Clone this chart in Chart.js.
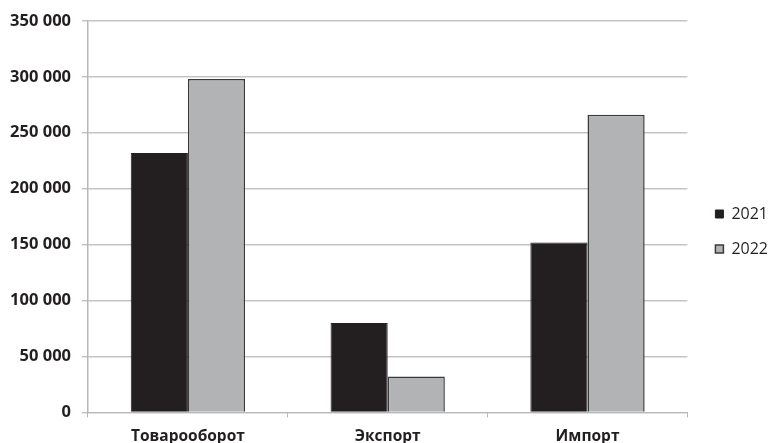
<!DOCTYPE html>
<html>
<head>
<meta charset="utf-8">
<script src="https://cdn.jsdelivr.net/npm/chart.js@4/dist/chart.umd.min.js"></script>
<style>
  html, body { margin: 0; padding: 0; background: #fff; }
  #wrap { width: 769px; height: 443px; }
</style>
</head>
<body>
<div id="wrap"><canvas id="chart" width="769" height="443"></canvas></div>
<script>
// Categories and series
const categories = ['Товарооборот', 'Экспорт', 'Импорт'];
const seriesNames = ['2021', '2022'];
const values2021 = [232000, 80000, 152000];
const values2022 = [298000, 32000, 266000];
const yTicks = [0, 50000, 100000, 150000, 200000, 250000, 300000, 350000];

// formats 350000 as "350 000"
const fmt = v => String(v).replace(/\B(?=(\d{3})+(?!\d))/g, ' ');

// push the legend a bit away from the plot, like the original
const legendShift = {
  id: 'legendShift',
  afterLayout(chart) {
    const lg = chart.legend;
    if (!lg) return;
    const w = lg.right - lg.left;
    lg.left = chart.chartArea.right + 9;
    lg.right = lg.left + w;
    lg.top -= 3;
    lg.bottom -= 3;
  }
};

const ctx = document.getElementById('chart').getContext('2d');

new Chart(ctx, {
  type: 'bar',
  data: {
    labels: categories,
    datasets: [
      {
        label: seriesNames[0],
        data: values2021,
        backgroundColor: '#231f20',
        borderColor: '#231f20',
        borderWidth: 1
      },
      {
        label: seriesNames[1],
        data: values2022,
        backgroundColor: '#b2b3b5',
        borderColor: '#3a3a3a',
        borderWidth: 1.5
      }
    ]
  },
  plugins: [legendShift],
  options: {
    responsive: false,
    animation: false,
    categoryPercentage: 0.572,
    barPercentage: 1,
    layout: {
      padding: { top: 13, right: 0, bottom: -13, left: 0 }
    },
    plugins: {
      legend: {
        position: 'right',
        align: 'center',
        labels: {
          boxWidth: 8,
          boxHeight: 8,
          padding: 19,
          color: '#231f20',
          font: { family: '"Open Sans", sans-serif', size: 16 }
        }
      },
      tooltip: { enabled: false }
    },
    scales: {
      x: {
        grid: {
          display: true,
          drawOnChartArea: false,
          offset: true,
          tickLength: 5,
          color: '#b8b8b8'
        },
        border: { display: true, color: '#b8b8b8' },
        ticks: {
          padding: 10,
          color: '#231f20',
          font: { family: '"Open Sans", sans-serif', size: 15.5, weight: 'bold' }
        }
      },
      y: {
        min: 0,
        max: 350000,
        afterFit: scale => { scale.width = 88; },
        afterBuildTicks: scale => { scale.ticks = yTicks.map(v => ({ value: v })); },
        grid: {
          color: '#c4c4c4',
          lineWidth: 1.5,
          tickLength: 6
        },
        border: { display: true, color: '#b8b8b8', width: 1.5 },
        ticks: {
          padding: 11,
          color: '#231f20',
          font: { family: '"Open Sans", sans-serif', size: 16.5, weight: 'bold' },
          callback: v => fmt(v)
        }
      }
    }
  }
});
</script>
</body>
</html>
